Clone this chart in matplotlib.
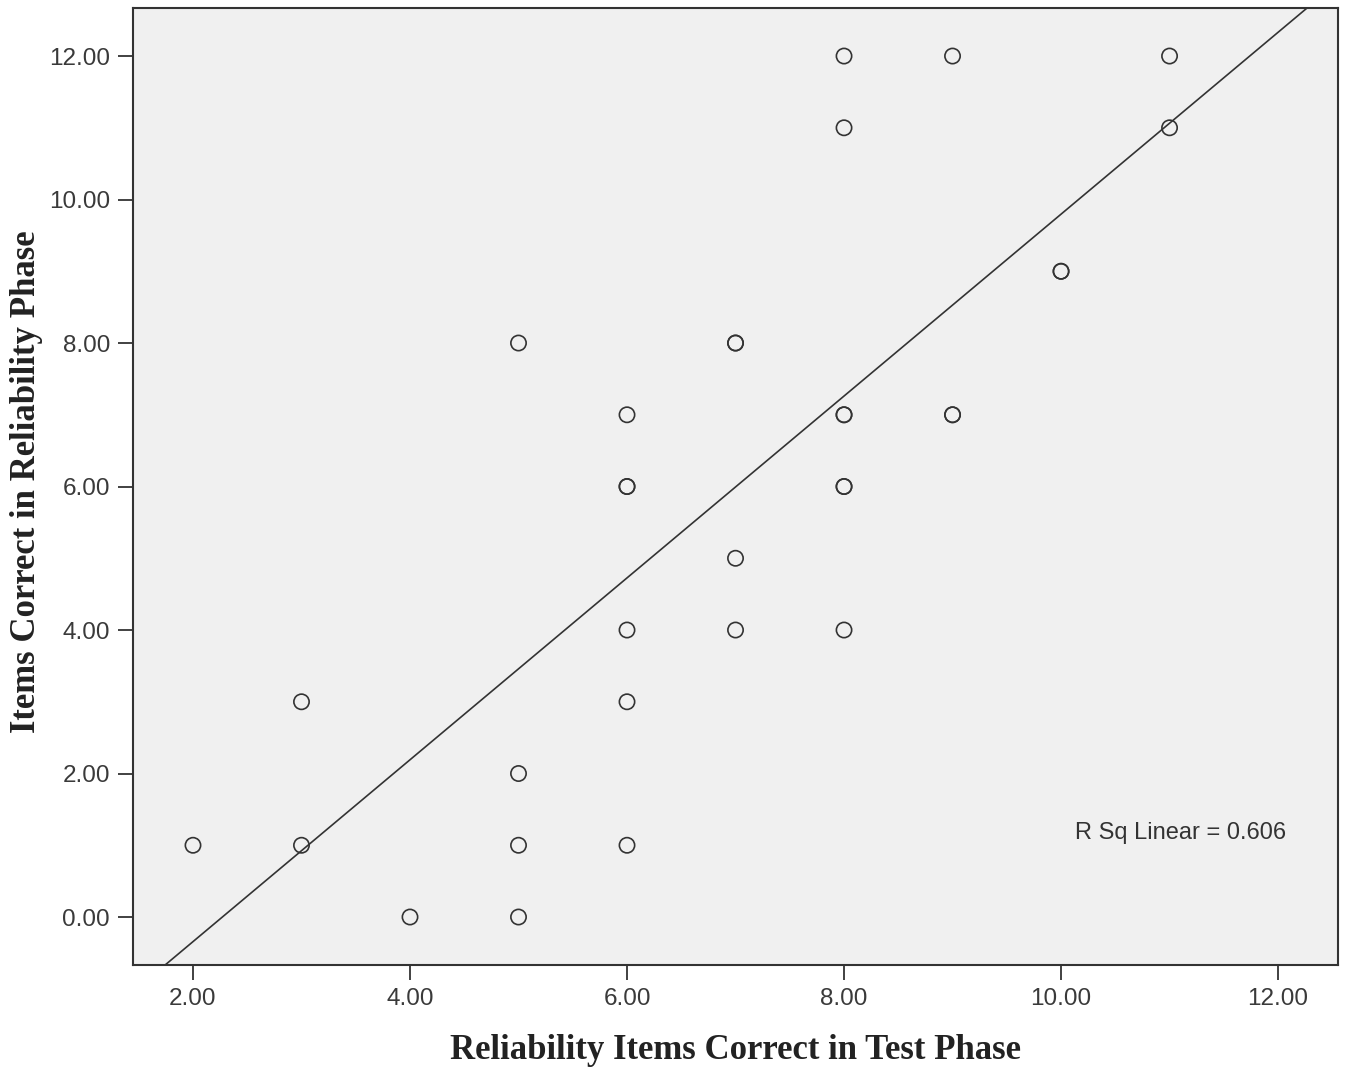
import numpy as np
import matplotlib
matplotlib.use("Agg")
import matplotlib.pyplot as plt

# puntos (los repetidos aparecen con borde mas grueso)
test_phase = [2, 3, 3, 4, 5, 5, 5, 5,
              6, 6, 6, 6, 6, 6,
              7, 7, 7, 7,
              8, 8, 8, 8, 8, 8, 8,
              9, 9, 9,
              10, 10,
              11, 11]
reliability_phase = [1, 3, 1, 0, 8, 2, 1, 0,
                     7, 6, 6, 4, 3, 1,
                     8, 8, 5, 4,
                     12, 11, 7, 7, 6, 6, 4,
                     12, 7, 7,
                     9, 9,
                     12, 11]
ticks = [2, 4, 6, 8, 10, 12]
yticks = [0, 2, 4, 6, 8, 10, 12]
r_sq_text = "R Sq Linear = 0.606"

x = np.array(test_phase, dtype=float)
y = np.array(reliability_phase, dtype=float)
m, b = np.polyfit(x, y, 1)

fig = plt.figure(figsize=(13.46, 10.72), dpi=100)
ax = fig.add_axes([0.0988, 0.0998, 0.8953, 0.8927])
ax.set_facecolor("#f0f0f0")

xlim = (1.447, 12.553)
ylim = (-0.669, 12.669)
ax.set_xlim(xlim)
ax.set_ylim(ylim)

xl = np.array(xlim)
ax.plot(xl, m * xl + b, color="#333333", lw=1.2, zorder=2)

ax.scatter(x, y, s=11**2, facecolors="none", edgecolors="#333333",
           linewidths=1.2, zorder=3)

ax.set_xticks(ticks)
ax.set_yticks(yticks)
ax.set_xticklabels(["%.2f" % t for t in ticks])
ax.set_yticklabels(["%.2f" % t for t in yticks])
ax.tick_params(direction="out", length=10.5, width=1.3, colors="#333333",
               labelsize=17.5, pad=6)
for lab in ax.get_xticklabels() + ax.get_yticklabels():
    lab.set_family("Liberation Sans")
    lab.set_color("#3a3a3a")

for sp in ax.spines.values():
    sp.set_color("#333333")
    sp.set_linewidth(1.5)

ax.set_xlabel("Reliability Items Correct in Test Phase", family="Liberation Serif",
              fontweight="bold", fontsize=25, color="#222222")
ax.set_ylabel("Items Correct in Reliability Phase", family="Liberation Serif",
              fontweight="bold", fontsize=25, color="#222222")
ax.xaxis.set_label_coords(0.4996, -0.089)
ax.yaxis.set_label_coords(-0.088, 0.505)
ax.xaxis.label.set_va("center")
ax.yaxis.label.set_va("center")

ax.text(11.1, 1.17, r_sq_text, family="Liberation Sans", fontsize=17,
        color="#333333", ha="center", va="center")

fig.savefig("out.png", dpi=100, facecolor="white")
